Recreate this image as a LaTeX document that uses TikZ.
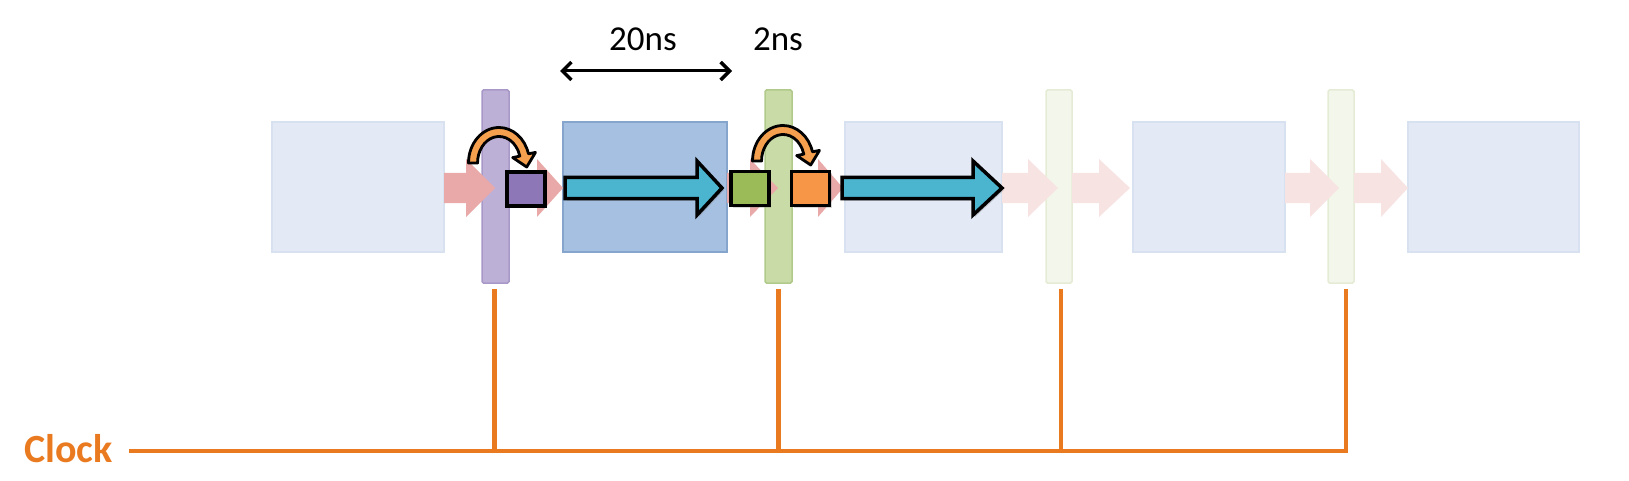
\documentclass[tikz,border=0pt]{standalone}
\usepackage{fontspec}
\setmainfont{Carlito}
\usetikzlibrary{arrows.meta,shadows}
\definecolor{paleblue}{HTML}{E4EAF5}
\definecolor{paleblueB}{HTML}{D8E1EF}
\definecolor{midblue}{HTML}{A5C0E1}
\definecolor{midblueB}{HTML}{86A5CC}
\definecolor{purplebar}{HTML}{BDB0D6}
\definecolor{purplebarB}{HTML}{A898C8}
\definecolor{greenbar}{HTML}{C9DBA7}
\definecolor{greenbarB}{HTML}{B1C98A}
\definecolor{palebar}{HTML}{F3F6EA}
\definecolor{palebarB}{HTML}{E5ECD6}
\definecolor{pinkA}{HTML}{E9A9A9}
\definecolor{pinkB}{HTML}{F8E3E3}
\definecolor{sqpurple}{HTML}{8D77B7}
\definecolor{sqgreen}{HTML}{9BBB59}
\definecolor{sqorange}{HTML}{F79646}
\definecolor{cyanfill}{HTML}{4BB4CE}
\definecolor{curveorange}{HTML}{F4A04E}
\definecolor{clockorange}{HTML}{EA7A20}
\newcommand\pkarrow[4]{\fill[#4] (#1,173) -- (#2,173) -- (#2,159) -- (#3,188) -- (#2,217) -- (#2,203) -- (#1,203) -- cycle;}
\newcommand\cyarrow[3]{\filldraw[fill=cyanfill, draw=black, line width=3.5, line join=miter,
  drop shadow={shadow xshift=2pt, shadow yshift=-2pt, opacity=0.35}]
  (#1,177.5) -- (#2,177.5) -- (#2,161) -- (#3,188) -- (#2,215) -- (#2,198.5) -- (#1,198.5) -- cycle;}
\tikzset{
  stage/.style={rectangle, minimum width=#1, minimum height=130, inner sep=0, line width=1.5},
  palestage/.style={stage=#1, fill=paleblue, draw=paleblueB},
  midstage/.style={stage=#1, fill=midblue, draw=midblueB},
  latchbar/.style={rectangle, minimum width=26, minimum height=193, inner sep=0, line width=1.5, rounded corners=1.5},
  sq/.style={rectangle, minimum width=38, minimum height=34, inner sep=0, draw=black, line width=3.5,
    drop shadow={shadow xshift=2pt, shadow yshift=-2pt, opacity=0.3}},
  clockline/.style={draw=clockorange, line width=4.5},
  curvarr/.pic={
    \filldraw[fill=curveorange, draw=black, line width=2.8, line join=round]
      (-21.5,0) -- (-30.5,0) arc[start angle=180, end angle=345, x radius=30.5, y radius=35.5]
      -- (36.5,-10.6) -- (27.7,4) -- (13.7,-5.4) -- (20.8,-6.9)
      arc[start angle=345, end angle=180, x radius=21.5, y radius=26.5] -- cycle;
  },
  lbl/.style={font=\fontsize{35}{40}\selectfont, inner sep=0, anchor=base}
}
\begin{document}
\begin{tikzpicture}[x=1pt, y=-1pt]
\useasboundingbox (0,0) rectangle (1629,481);
% latch bars
\node[latchbar, minimum width=27, fill=purplebar, draw=purplebarB] (pbar) at (495.5,186.5) {};
\node[latchbar, minimum width=27, fill=greenbar, draw=greenbarB] (gbar) at (778.5,186.5) {};
\node[latchbar, fill=palebar, draw=palebarB] (bar3) at (1059,186.5) {};
\node[latchbar, fill=palebar, draw=palebarB] (bar4) at (1341,186.5) {};
% stages
\node[palestage=172] (b1) at (358,187) {};
\node[midstage=164] (b2) at (645,187) {};
\node[palestage=157] (b3) at (923.5,187) {};
\node[palestage=152] (b4) at (1209,187) {};
\node[palestage=171] (b5) at (1493.5,187) {};
% pink flow arrows
\pkarrow{444}{466}{495}{pinkA}
\pkarrow{509}{537}{563}{pinkA}
\pkarrow{727}{750}{778}{pinkA}
\pkarrow{792}{818}{843}{pinkA}
\pkarrow{1002}{1028}{1058}{pinkB}
\pkarrow{1072}{1099}{1130}{pinkB}
\pkarrow{1285}{1310}{1339}{pinkB}
\pkarrow{1354}{1381}{1408}{pinkB}
% cyan arrows
\cyarrow{565}{697}{722}
\cyarrow{842}{973}{1002}
% registers
\node[sq, fill=sqpurple] (rp) at (526,189) {};
\node[sq, fill=sqgreen] (rg) at (750,188.5) {};
\node[sq, fill=sqorange] (ro) at (810.5,188.5) {};
% curved arrows
\pic at (499,163) {curvarr};
\pic at (783,161) {curvarr};
% labels
\node[lbl] (t20) at (643,51) {20ns};
\node[lbl] (t2) at (778,51) {2ns};
\coordinate (d1) at (560,71);
\coordinate (d2) at (732,71);
\draw[line width=3, {Straight Barb[length=9pt,width=18pt,line width=3.5pt]}-{Straight Barb[length=9pt,width=18pt,line width=3.5pt]}] (d1) -- (d2);
% clock
\node[font=\fontsize{40}{44}\selectfont\bfseries, text=clockorange, inner sep=0, anchor=base west] (clk) at (24,462) {Clock};
\coordinate (cs) at (129,451);
\coordinate (ce) at ([xshift=7.25pt]bar4.south |- cs);
\draw[clockline] (cs) -- (ce);
\foreach \b/\dx in {pbar/-1,gbar/0,bar3/2,bar4/5}{
  \draw[clockline] ([xshift=\dx pt, yshift=-5pt]\b.south) -- ([xshift=\dx pt]\b.south |- cs);
}
\end{tikzpicture}
\end{document}
